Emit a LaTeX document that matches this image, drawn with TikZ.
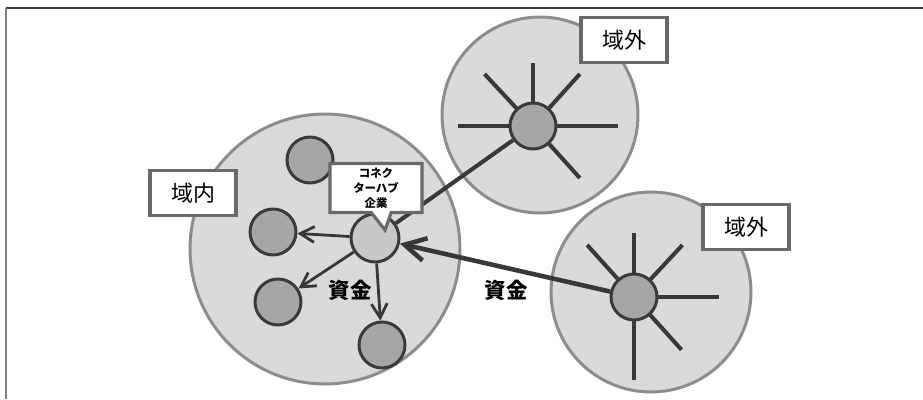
\documentclass[tikz,border=0pt]{standalone}
\usepackage{fontspec}
\setmainfont{Noto Sans CJK JP}
\usetikzlibrary{shapes.callouts,arrows.meta,calc}
\definecolor{regionfill}{RGB}{218,218,218}
\definecolor{regionrim}{RGB}{140,140,140}
\definecolor{firmfill}{RGB}{166,166,166}
\definecolor{firmrim}{RGB}{58,58,58}
\definecolor{hubfill}{RGB}{200,200,200}
\definecolor{boxrim}{RGB}{105,105,105}
\definecolor{ink}{RGB}{56,56,56}

\begin{document}
\begin{tikzpicture}[x=0.02cm, y=0.02cm,
    region/.style={circle, fill=regionfill, inner sep=0pt},
    rim/.style={draw=regionrim, line width=1.7pt},
    firm/.style={circle, draw=firmrim, fill=firmfill, line width=1.7pt, minimum size=0.92cm, inner sep=0pt},
    hubfirm/.style={firm, fill=hubfill, minimum size=0.96cm},
    spoke/.style={draw=ink, line width=2.3pt},
    tag/.style={draw=boxrim, fill=white, line width=1.8pt, minimum width=1.72cm, minimum height=0.9cm, font=\fontsize{12.5}{14}\selectfont},
    money/.style={font=\bfseries\fontsize{12.2}{14}\selectfont},
    flow/.style={draw=ink, line width=1.6pt, -{Straight Barb[length=8pt, width=9pt]}}]
  \useasboundingbox (0,0) rectangle (923,399);
  \draw[ink, line width=1.1pt] (923,391) -- (6,391);
  \draw[gray, line width=1.1pt] (6,391) -- (6,0);

  % regions
  \node[region, minimum size=5.4cm] (inner) at (325,150) {};
  \node[region, minimum size=3.92cm] (outa) at (540,284) {};
  \node[region, minimum size=4cm] (outb) at (651,107) {};
  \draw[rim] (inner.center) circle[radius=2.7cm];
  \draw[rim] (outa.center) circle[radius=1.96cm];
  \draw[rim] (outb.center) circle[radius=2cm];

  % firms
  \node[hubfirm] (hub) at (375,161) {};
  \node[firm] (ha) at (533,273) {};
  \node[firm] (hb) at (634,102) {};
  \node[firm] (n1) at (310,239) {};
  \node[firm] (n2) at (273,167) {};
  \node[firm] (n3) at (278,97) {};
  \node[firm] (n4) at (382,54) {};

  \foreach \a/\l in {90/63, 133/71, 48/70, 180/75, 0/85, -48/70}
    \draw[spoke] (ha.\a) -- ([shift={(\a:\l)}]ha.center);
  \foreach \a/\l in {90/64, 132/70, 47/71, 0/85, -48/71, -90/83}
    \draw[spoke] (hb.\a) -- ([shift={(\a:\l)}]hb.center);

  \draw[spoke] (hub) -- (ha);
  \draw[draw=ink, line width=2.6pt, -{Straight Barb[length=12pt, width=13pt]}] (hb) -- (hub);
  \path[flow] (hub) edge (n2) (hub) edge (n3) (hub) edge (n4);

  % labels
  \node[tag] (tagin) at (193,206) {域内};
  \node[tag] (taga) at (624,359) {域外};
  \node[tag] (tagb) at (746,172) {域外};
  \node[draw=boxrim, fill=white, line width=1.8pt, rectangle callout, callout pointer width=0.4cm,
        callout absolute pointer={($(hub.center)+(10,8)$)}, minimum width=1.84cm, minimum height=0.98cm,
        align=center, inner sep=1pt, font=\bfseries\fontsize{6.5}{8.5}\selectfont] (cbox) at (376,211) {コネク\\ターハブ\\企業};
  \node[money] (fund1) at (350,109) {資金};
  \node[money] (fund2) at (506,109) {資金};
\end{tikzpicture}
\end{document}
